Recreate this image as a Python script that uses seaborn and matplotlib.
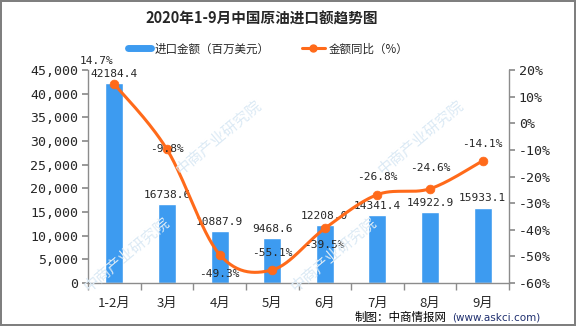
import numpy as np
import pandas as pd
import matplotlib
matplotlib.use("Agg")
import matplotlib.pyplot as plt
import seaborn as sns
from matplotlib.lines import Line2D

sns.set_theme(style="white")
plt.rcParams["font.family"] = ["Noto Sans CJK SC", "DejaVu Sans"]
plt.rcParams["axes.unicode_minus"] = False

# Monthly crude oil imports, 2020
months = ["1-2月", "3月", "4月", "5月", "6月", "7月", "8月", "9月"]
import_value = [42184.4, 16738.6, 10887.9, 9468.6, 12208.0, 14341.4, 14922.9, 15933.1]
yoy_change = [14.7, -9.8, -49.3, -55.1, -39.5, -26.8, -24.6, -14.1]
left_ticks = [0, 5000, 10000, 15000, 20000, 25000, 30000, 35000, 40000, 45000]
right_ticks = [-60, -50, -40, -30, -20, -10, 0, 10, 20]

bar_color = "#3D9BF0"
line_color = "#FF6A1A"
axis_color = "#8C8C8C"
mono = ["DejaVu Sans Mono"]

df = pd.DataFrame({"month": months, "value": import_value, "yoy": yoy_change})

fig = plt.figure(figsize=(5.76, 3.26), dpi=100)
fig.patch.set_edgecolor("#7F7F7F")
fig.patch.set_linewidth(1.5)
ax = fig.add_axes([88 / 576, 1 - 283 / 326, (509 - 88) / 576, (283 - 70) / 326])

# faint watermark
for (wx, wy) in [(0.38, 0.58), (0.73, 0.58), (0.22, 0.22), (0.58, 0.22)]:
    fig.text(wx, wy, "中商产业研究院", color="#DCEAF5", fontsize=11, rotation=40,
             ha="center", va="center", zorder=0)

sns.barplot(data=df, x="month", y="value", color=bar_color, width=0.34,
            saturation=1, ax=ax, zorder=2)
ax.set_xlim(-0.5, len(months) - 0.5)
ax.set_ylim(0, 45000)
ax.set_yticks(left_ticks)
ax.set_yticklabels([f"{v:,}" for v in left_ticks])
ax.set_xlabel("")
ax.set_ylabel("")
ax.patch.set_alpha(0)

for i, v in enumerate(import_value):
    ax.annotate(f"{v:.1f}", (i, v), xytext=(0, 3), textcoords="offset points",
                ha="center", va="bottom", fontsize=8, family=mono, zorder=5)

ax2 = ax.twinx()
ax2.set_ylim(-60, 20)
ax2.set_yticks(right_ticks)
ax2.set_yticklabels([f"{v}%" for v in right_ticks])


def catmull_rom(xs, ys, n=30):
    xs = np.asarray(xs, float)
    ys = np.asarray(ys, float)
    px = np.concatenate([[xs[0]], xs, [xs[-1]]])
    py = np.concatenate([[ys[0]], ys, [ys[-1]]])
    out_x, out_y = [], []
    for k in range(1, len(px) - 2):
        t = np.linspace(0, 1, n, endpoint=False)
        for P, out in ((px, out_x), (py, out_y)):
            p0, p1, p2, p3 = P[k - 1], P[k], P[k + 1], P[k + 2]
            m1 = (p2 - p0) / 2
            m2 = (p3 - p1) / 2
            h00 = 2 * t**3 - 3 * t**2 + 1
            h10 = t**3 - 2 * t**2 + t
            h01 = -2 * t**3 + 3 * t**2
            h11 = t**3 - t**2
            out.extend(h00 * p1 + h10 * m1 + h01 * p2 + h11 * m2)
    out_x.append(xs[-1])
    out_y.append(ys[-1])
    return np.array(out_x), np.array(out_y)


sx, sy = catmull_rom(range(len(months)), yoy_change)
sns.lineplot(x=sx, y=sy, color=line_color, linewidth=2.2, ax=ax2, sort=False, zorder=3)
sns.scatterplot(x=np.arange(len(months)), y=yoy_change, color=line_color, s=40,
                edgecolor=line_color, ax=ax2, zorder=4)

# label placement for the percentage series (dx, dy in points)
offsets = [(-13, 17), (0, 0), (0, -14), (0, 12), (0, -12), (0, 13), (0, 15), (0, 12)]
for i, (v, (dx, dy)) in enumerate(zip(yoy_change, offsets)):
    ax2.annotate(f"{v}%", (i, v), xytext=(dx, dy), textcoords="offset points",
                 ha="center", va="center", fontsize=8, family=mono, zorder=6)

for a in (ax, ax2):
    a.spines["top"].set_visible(False)
    for s in ("left", "right", "bottom"):
        a.spines[s].set_color(axis_color)
        a.spines[s].set_linewidth(1)
ax.spines["right"].set_visible(False)
ax2.spines["left"].set_visible(False)
ax2.spines["bottom"].set_visible(False)

ax.tick_params(axis="y", which="both", left=True, length=4, color=axis_color,
               labelsize=9.5, pad=3)
ax2.tick_params(axis="y", which="both", right=True, length=4, color=axis_color,
                labelsize=9.5, pad=3)
ax.tick_params(axis="x", which="major", bottom=False, labelsize=9.5, pad=4)
ax.set_xticks(np.arange(-0.5, len(months)), minor=True)
ax.tick_params(axis="x", which="minor", bottom=True, length=5, color=axis_color)
for lbl in ax.get_yticklabels() + ax2.get_yticklabels():
    lbl.set_family(mono)

fig.text(262 / 576, 1 - 19 / 326, "2020年1-9月中国原油进口额趋势图", ha="center", va="center",
         fontsize=10.5, fontweight="bold")

handles = [
    Line2D([0], [0], color=bar_color, linewidth=5),
    Line2D([0], [0], color=line_color, linewidth=2.2, marker="o", markersize=5),
]
fig.legend(handles, ["进口金额（百万美元）", "金额同比（%）"], loc="center",
           bbox_to_anchor=(268 / 576, 1 - 49 / 326), ncol=2, frameon=False, fontsize=8.3,
           handlelength=2.0, columnspacing=2.8, handletextpad=0.3)

fig.text(355 / 576, 1 - 317 / 326, "制图：中商情报网", ha="left", va="center",
         fontsize=8.3, color="black")
fig.text(452 / 576, 1 - 317 / 326, "(www.askci.com)", ha="left", va="center",
         fontsize=7.5, color="#1F2F6F", family=["DejaVu Sans"])

fig.savefig("out.png", dpi=100, edgecolor=fig.get_edgecolor())
